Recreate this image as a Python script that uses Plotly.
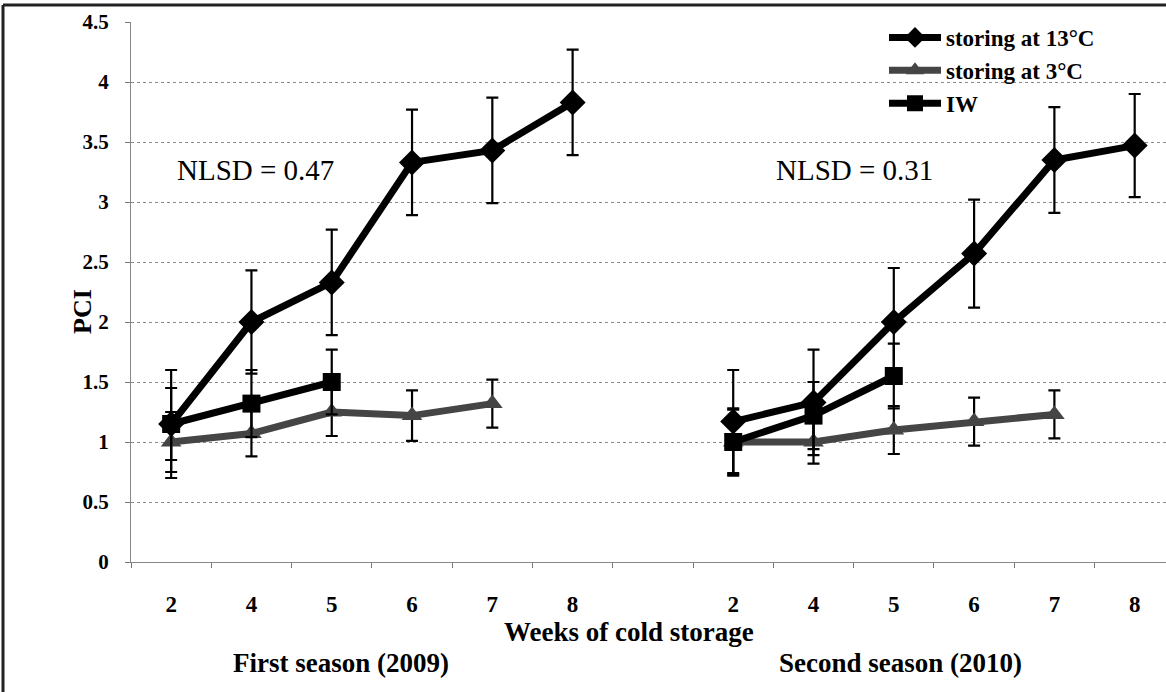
import plotly.graph_objects as go

# ---------------- data ----------------
weeks = ["2", "4", "5", "6", "7", "8"]
cats_s1 = ["S1-" + w for w in weeks]
cats_s2 = ["S2-" + w for w in weeks]
gap = "gap"
categories = cats_s1 + [gap] + cats_s2
tick_text = weeks + [""] + weeks

# storing at 13 C (weeks 2,4,5,6,7,8)
pci_13_s1 = [1.15, 2.00, 2.33, 3.33, 3.43, 3.83]
err_13_s1 = [0.45, 0.43, 0.44, 0.44, 0.44, 0.44]
pci_13_s2 = [1.17, 1.33, 2.00, 2.57, 3.35, 3.47]
err_13_s2 = [0.43, 0.44, 0.45, 0.45, 0.44, 0.43]
# storing at 3 C (weeks 2,4,5,6,7)
pci_3_s1 = [1.00, 1.07, 1.25, 1.22, 1.32]
err_3_s1 = [0.25, 0.19, 0.20, 0.21, 0.20]
pci_3_s2 = [1.00, 1.00, 1.10, 1.17, 1.23]
err_3_s2 = [0.27, 0.18, 0.20, 0.20, 0.20]
# IW (weeks 2,4,5)
pci_iw_s1 = [1.15, 1.32, 1.50]
err_iw_s1 = [0.30, 0.28, 0.27]
pci_iw_s2 = [1.00, 1.22, 1.55]
err_iw_s2 = [0.28, 0.28, 0.27]

series = [
    ("storing at 3°C", pci_3_s1, err_3_s1, pci_3_s2, err_3_s2, "triangle-up", "#454545", 18),
    ("IW", pci_iw_s1, err_iw_s1, pci_iw_s2, err_iw_s2, "square", "#000000", 18),
    ("storing at 13°C", pci_13_s1, err_13_s1, pci_13_s2, err_13_s2, "diamond", "#000000", 20),
]
legend_rank = {"storing at 13°C": 1, "storing at 3°C": 2, "IW": 3}

SERIF = "Liberation Serif, Times New Roman, serif"

fig = go.Figure()
for name, y1, e1, y2, e2, sym, col, msize in series:
    n = len(y1)
    xs = cats_s1[:n] + [gap] + cats_s2[:n]
    ys = list(y1) + [None] + list(y2)
    es = list(e1) + [0] + list(e2)
    fig.add_trace(go.Scatter(
        x=xs, y=ys, name=name, mode="lines+markers",
        line=dict(color=col, width=7),
        marker=dict(symbol=sym, size=msize, color=col),
        error_y=dict(type="data", array=es, visible=True, color="#000000",
                     thickness=2.2, width=6),
        connectgaps=False, legendrank=legend_rank[name],
    ))

W, H = 1166, 692
L, R, T, B = 131, 0, 22, 130
pw, ph = W - L - R, H - T - B


def px(x):
    return (x - L) / pw


def py(y):
    return (H - B - y) / ph


fig.update_layout(
    width=W, height=H,
    margin=dict(l=L, r=R, t=T, b=B),
    paper_bgcolor="white", plot_bgcolor="white",
    font=dict(family=SERIF, color="black"),
    showlegend=True,
    legend=dict(x=px(884), y=py(16), xanchor="left", yanchor="top",
                bgcolor="rgba(0,0,0,0)", borderwidth=0,
                font=dict(family=SERIF, size=23, color="black", weight="bold"),
                itemwidth=52, tracegroupgap=0),
    xaxis=dict(type="category", categoryorder="array", categoryarray=categories,
               tickmode="array", tickvals=categories, ticktext=tick_text,
               tickson="boundaries", ticks="outside", ticklen=5, tickcolor="#777",
               range=[-0.5, 12.39], showgrid=False, zeroline=False,
               showline=True, linecolor="#888", linewidth=1,
               tickfont=dict(family=SERIF, size=23, color="black", weight="bold"),
               ticklabelstandoff=21),
    yaxis=dict(range=[0, 4.5], tickmode="array",
               tickvals=[0, 0.5, 1, 1.5, 2, 2.5, 3, 3.5, 4, 4.5],
               ticktext=["0", "0.5", "1", "1.5", "2", "2.5", "3", "3.5", "4", "4.5"],
               ticks="outside", ticklen=5, tickcolor="#777",
               showgrid=True, gridcolor="#8a8a8a", griddash="dot", gridwidth=1,
               zeroline=False, showline=True, linecolor="#888", linewidth=1,
               tickfont=dict(family=SERIF, size=21, color="black", weight="bold"),
               ticklabelstandoff=12),
)

ann = [
    dict(text="NLSD = 0.47", x=px(255), y=py(170), size=29),
    dict(text="NLSD = 0.31", x=px(854), y=py(170), size=29),
    dict(text="<b>Weeks of cold storage</b>", x=px(629), y=py(632), size=27),
    dict(text="<b>First season (2009)</b>", x=px(341), y=py(663), size=27),
    dict(text="<b>Second season (2010)</b>", x=px(900), y=py(663), size=27),
]
for a in ann:
    fig.add_annotation(text=a["text"], x=a["x"], y=a["y"], xref="paper", yref="paper",
                       xanchor="center", yanchor="middle", showarrow=False,
                       font=dict(family=SERIF, size=a["size"], color="black"))
fig.add_annotation(text="<b>PCI</b>", x=px(83), y=py(312), xref="paper", yref="paper",
                   xanchor="center", yanchor="middle", showarrow=False, textangle=-90,
                   font=dict(family=SERIF, size=26, color="black"))

# outer frame (left and top edges visible in the crop)
fig.add_shape(type="line", xref="paper", yref="paper", x0=px(3), x1=px(3),
              y0=py(5), y1=py(692), line=dict(color="#222", width=3))
fig.add_shape(type="line", xref="paper", yref="paper", x0=px(3), x1=px(1166),
              y0=py(5), y1=py(5), line=dict(color="#222", width=3))

fig.write_html("out.html")
